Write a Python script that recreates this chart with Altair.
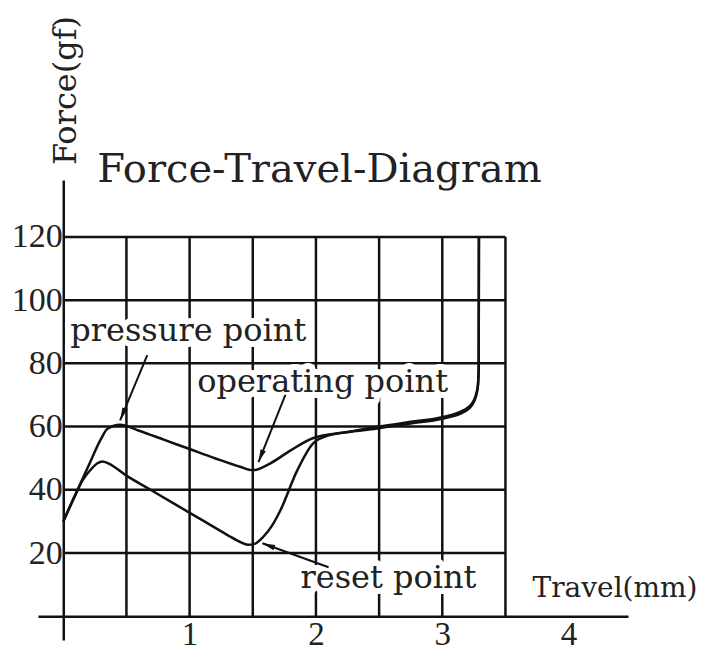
import math
import altair as alt
import pandas as pd

# ---------------- data ----------------
# pressing (upper) curve: travel (mm) / force (gf)
press_x = [0, 0.1, 0.2, 0.3, 0.35, 0.45, 0.6, 0.8, 1.0, 1.2, 1.4, 1.5, 1.64, 1.8,
           1.98, 2.25, 2.5, 2.75, 3.0, 3.17, 3.24, 3.28, 3.288, 3.29]
press_y = [30, 38.8, 47.6, 56.2, 59.3, 60.6, 58.7, 55.8, 52.9, 50.0, 47.3, 46.2, 48.4, 52.5,
           56.4, 58.3, 60.0, 61.5, 63.0, 65.2, 67.6, 72.5, 78, 120]
# releasing (lower) curve
release_x = [0, 0.1, 0.15, 0.22, 0.27, 0.31, 0.36, 0.5, 0.7, 0.9, 1.1, 1.3, 1.4, 1.46,
             1.52, 1.58, 1.65, 1.72, 1.85, 1.98, 2.11, 2.3, 2.5, 2.75, 3.0, 3.17, 3.24,
             3.28, 3.288, 3.29]
release_y = [30, 38.8, 42.8, 46.5, 48.4, 49.0, 48.3, 44.5, 39.8, 35.1, 30.4, 25.7, 23.5, 22.6,
             23.0, 25.0, 28.5, 33.6, 46.0, 54.8, 57.3, 58.5, 59.5, 61.0, 62.5, 64.6, 67.0,
             72.0, 78, 120]

grid_force = [20, 40, 60, 80, 100, 120]
grid_travel = [0.5, 1.0, 1.5, 2.0, 2.5, 3.0, 3.5]
grid_travel_max = 3.5
grid_force_max = 120

y_ticks = [20, 40, 60, 80, 100, 120]
x_ticks = [1, 2, 3, 4]

label_text = ["pressure point", "operating point", "reset point"]
label_x = [0.055, 1.06, 1.877]
label_y = [87.1, 71.1, 8.9]

arrow_from_x = [0.665, 1.758, 2.1]
arrow_from_y = [82.6, 70.0, 15.5]
arrow_to_x = [0.45, 1.545, 1.576]
arrow_to_y = [62.0, 48.8, 23.1]

chart_title = ["Force-Travel-Diagram"]
chart_title_x = [0.269]
chart_title_y = [137.4]

x_title = "Travel(mm)"
y_title = "Force(gf)"

# ---------------- layout ----------------
X_DOMAIN = [-0.2, 4.47]
Y_DOMAIN = [-7.5, 138]
W, H = 590, 460
sx = W / (X_DOMAIN[1] - X_DOMAIN[0])
sy = H / (Y_DOMAIN[1] - Y_DOMAIN[0])
INK = "#111111"
TXT = "#222222"
LW = 2.5

xs = alt.Scale(domain=X_DOMAIN, nice=False, zero=False)
ys = alt.Scale(domain=Y_DOMAIN, nice=False, zero=False)

x_axis = alt.Axis(
    values=x_ticks, ticks=False, tickSize=0, grid=False,
    domainColor=INK, domainWidth=LW,
    labelFont="Liberation Serif", labelFontSize=33, labelColor=TXT,
    labelPadding=2, labelFlush=False, labelOverlap=False,
    offset=-(0 - Y_DOMAIN[0]) * sy,
    title=x_title, titleFont="DejaVu Serif", titleFontSize=28,
    titleFontWeight="normal", titleColor=TXT,
    titleX=494, titleY=-20, titleAlign="left", titleBaseline="alphabetic",
)
y_axis = alt.Axis(
    values=y_ticks, ticks=False, tickSize=0, grid=False,
    domainColor=INK, domainWidth=LW,
    labelFont="Liberation Serif", labelFontSize=34, labelColor=TXT,
    labelPadding=1, labelFlush=False, labelOverlap=False,
    offset=-(0 - X_DOMAIN[0]) * sx,
    title=y_title, titleFont="DejaVu Serif", titleFontSize=32,
    titleFontWeight="normal", titleColor=TXT, titleAngle=270,
    titleX=12, titleY=-90, titleAlign="center", titleBaseline="alphabetic",
)


def X(field="x"):
    return alt.X(f"{field}:Q", scale=xs, axis=x_axis)


def Y(field="y"):
    return alt.Y(f"{field}:Q", scale=ys, axis=y_axis)


# ---------------- tables ----------------
h_grid = pd.DataFrame({"x": [0] * len(grid_force), "x2": [grid_travel_max] * len(grid_force),
                       "y": grid_force})
v_grid = pd.DataFrame({"x": grid_travel, "y": [0] * len(grid_travel),
                       "y2": [grid_force_max] * len(grid_travel)})

curves = pd.concat([
    pd.DataFrame({"x": press_x, "y": press_y, "series": "press", "i": range(len(press_x))}),
    pd.DataFrame({"x": release_x, "y": release_y, "series": "release", "i": range(len(release_x))}),
])

labels = pd.DataFrame({"text": label_text, "x": label_x, "y": label_y})


def head_angle(x1, y1, x2, y2):
    dxp = (x2 - x1) * sx
    dyp = -(y2 - y1) * sy
    return math.degrees(math.atan2(dxp, -dyp)) % 360


arrows = pd.DataFrame({"x": arrow_from_x, "y": arrow_from_y, "x2": arrow_to_x, "y2": arrow_to_y})
heads = pd.DataFrame({
    "x": arrow_to_x, "y": arrow_to_y,
    "angle": [head_angle(a, b, c, d) for a, b, c, d in
              zip(arrow_from_x, arrow_from_y, arrow_to_x, arrow_to_y)],
})
title_df = pd.DataFrame({"text": chart_title, "x": chart_title_x, "y": chart_title_y})

# ---------------- layers ----------------
hg = alt.Chart(h_grid).mark_rule(color=INK, strokeWidth=LW).encode(
    x=X(), x2="x2:Q", y=Y())
vg = alt.Chart(v_grid).mark_rule(color=INK, strokeWidth=LW).encode(
    x=X(), y=Y(), y2="y2:Q")

halo = alt.Chart(labels).mark_text(
    align="left", baseline="alphabetic", font="DejaVu Serif", fontSize=32,
    color="white", stroke="white", strokeWidth=12, strokeJoin="round",
).encode(x=X(), y=Y(), text="text:N")

lines = alt.Chart(curves).mark_line(
    color=INK, strokeWidth=LW, interpolate="monotone"
).encode(x=X(), y=Y(), detail="series:N", order="i:Q")

arrow_lines = alt.Chart(arrows).mark_rule(color=INK, strokeWidth=2).encode(
    x=X(), y=Y(), x2="x2:Q", y2="y2:Q")

arrow_heads = alt.Chart(heads).mark_point(
    shape="M0,0L0.4,1.8L-0.4,1.8Z", filled=True, size=200, color=INK, opacity=1,
).encode(x=X(), y=Y(), angle=alt.Angle("angle:Q", scale=None))

label_text_layer = alt.Chart(labels).mark_text(
    align="left", baseline="alphabetic", font="DejaVu Serif", fontSize=32, color=TXT,
).encode(x=X(), y=Y(), text="text:N")

title_layer = alt.Chart(title_df).mark_text(
    align="left", baseline="alphabetic", font="DejaVu Serif", fontSize=40, color=TXT,
).encode(x=X(), y=Y(), text="text:N")

chart = alt.layer(
    hg, vg, halo, lines, arrow_lines, arrow_heads, label_text_layer, title_layer
).properties(
    width=W, height=H,
    padding={"left": 30, "top": 172, "right": 68, "bottom": 12},
    autosize=alt.AutoSizeParams(type="none"),
    background="white",
).configure_view(stroke=None)

chart.save("out.html", embed_options={"renderer": "svg", "actions": False})
